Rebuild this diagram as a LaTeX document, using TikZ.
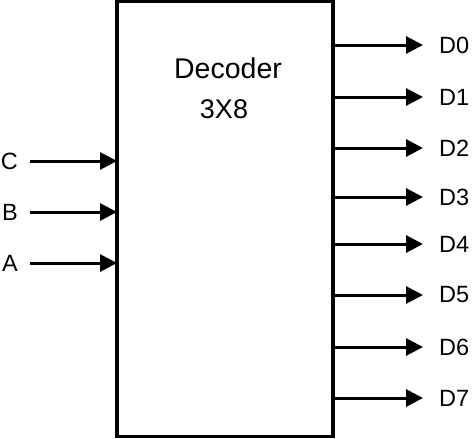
\documentclass[tikz,border=0pt]{standalone}
\usepackage{fontspec}
\setmainfont{Liberation Sans}
\usetikzlibrary{arrows.meta}

\begin{document}
\begin{tikzpicture}[x=1pt,y=-1pt,
  wire/.style={line width=3pt,-{Triangle[length=17pt,width=17pt]}},
  pin/.style={font=\fontsize{23.5}{25}\selectfont,inner ysep=0pt}]
  \useasboundingbox (0,0) rectangle (474,439);

  \node[draw,line width=3.5pt,outer sep=0pt,inner sep=0pt,minimum width=216pt,minimum height=435pt,anchor=north west] (dec) at (117,1.5) {};
  \node[font=\fontsize{28.5}{30}\selectfont] (title) at (228,68) {Decoder};
  \node[font=\fontsize{27}{28}\selectfont] (size) at (224,109) {3X8};

  \foreach \n/\y in {C/161,B/212,A/263}{
    \node[pin,anchor=east,inner xsep=12pt] (\n) at (30,\y) {\n};
    \draw[wire] (\n) -- (dec.west |- \n);
  }

  \foreach \i/\y in {0/45,1/97,2/148,3/197,4/244,5/295,6/347,7/398}{
    \node[pin,anchor=west,inner xsep=16pt] (D\i) at (423,\y) {D\i};
    \draw[wire] (dec.east |- D\i) -- (D\i);
  }
\end{tikzpicture}
\end{document}
